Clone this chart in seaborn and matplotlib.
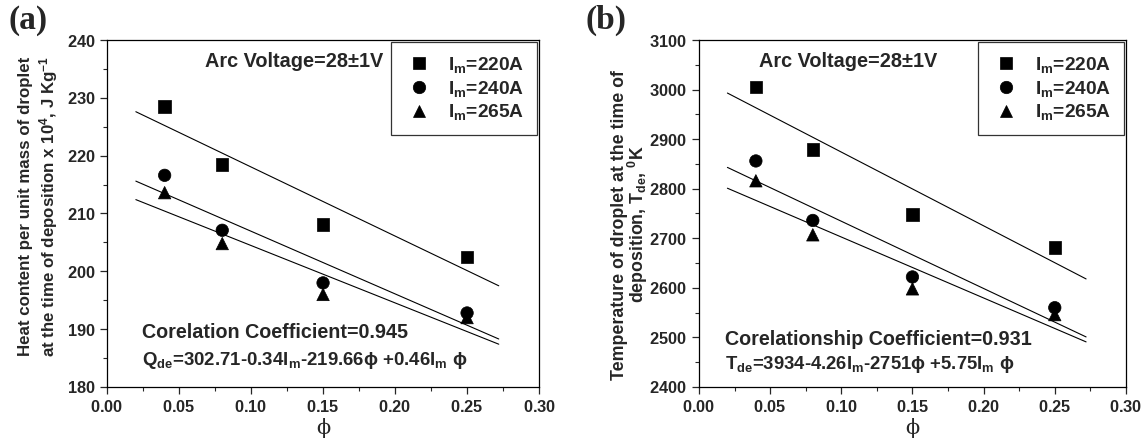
import numpy as np
import pandas as pd
import matplotlib
matplotlib.use("Agg")
import matplotlib.pyplot as plt
from matplotlib.ticker import MultipleLocator, FuncFormatter
import seaborn as sns

# ---------------- data ----------------
phi = [0.04, 0.08, 0.15, 0.25]
currents = ["220A", "240A", "265A"]

heat_220 = [228.5, 218.5, 208.1, 202.5]
heat_240 = [216.6, 207.1, 198.0, 192.8]
heat_265 = [213.6, 204.8, 196.0, 192.0]

temp_220 = [3005, 2879, 2748, 2681]
temp_240 = [2856, 2736, 2622, 2560]
temp_265 = [2816, 2707, 2598, 2546]

fit_phi = [0.02, 0.272]
heat_fit_220 = [227.6, 197.5]
heat_fit_240 = [215.6, 188.3]
heat_fit_265 = [212.4, 187.4]
temp_fit_220 = [2993, 2618]
temp_fit_240 = [2843, 2501]
temp_fit_265 = [2801, 2491]

# ---------------- style ----------------
sns.set_style("ticks")
plt.rcParams["font.family"] = ["Liberation Sans", "DejaVu Sans"]
plt.rcParams["font.weight"] = "bold"
plt.rcParams["mathtext.fontset"] = "custom"
plt.rcParams["mathtext.rm"] = "Liberation Sans:bold"
plt.rcParams["mathtext.it"] = "Liberation Sans:bold"
plt.rcParams["mathtext.bf"] = "Liberation Sans:bold"
plt.rcParams["mathtext.default"] = "rm"

def make_df(vals, xs):
    rows = []
    for cur, ys in zip(currents, vals):
        for x, y in zip(xs, ys):
            rows.append({"phi": x, "val": y, "cur": cur})
    return pd.DataFrame(rows)

fig = plt.figure(figsize=(11.46, 4.44), dpi=100)
axA = fig.add_axes([0.0934, 0.1284, 0.3770, 0.7815])
axB = fig.add_axes([0.6099, 0.1284, 0.3726, 0.7815])

marker_map = {"220A": "s", "240A": "o", "265A": "^"}
legend_labels = [r"$\mathrm{I_m}$=220A", r"$\mathrm{I_m}$=240A", r"$\mathrm{I_m}$=265A"]

def draw(ax, pts, fits, ylim, ymaj, ymin, ylabel, ylsize, ylcoords, ylspace,
         t1, t1pos, t2, t2pos, t2size, t3, t3pos, t3size):
    dfp = make_df(pts, phi)
    dff = make_df(fits, fit_phi)
    sns.lineplot(data=dff, x="phi", y="val", units="cur", estimator=None,
                 color="black", lw=0.8, ax=ax, legend=False)
    sns.scatterplot(data=dfp, x="phi", y="val", style="cur", markers=marker_map,
                    color="black", s=80, edgecolor="black", linewidth=0.5, ax=ax, legend=True)
    ax.set_xlim(0, 0.30)
    ax.set_ylim(*ylim)
    ax.xaxis.set_major_locator(MultipleLocator(0.05))
    ax.xaxis.set_minor_locator(MultipleLocator(0.025))
    ax.yaxis.set_major_locator(MultipleLocator(ymaj))
    ax.yaxis.set_minor_locator(MultipleLocator(ymin))
    ax.xaxis.set_major_formatter(FuncFormatter(lambda v, p: r"$\mathrm{%.2f}$" % v))
    ax.yaxis.set_major_formatter(FuncFormatter(lambda v, p: r"$\mathrm{%.0f}$" % v))
    ax.tick_params(which="major", direction="out", length=5, width=0.9, labelsize=11.8)
    ax.tick_params(which="minor", direction="out", length=3, width=0.8)
    for sp in ax.spines.values():
        sp.set_linewidth(0.9)
        sp.set_color("black")
    ax.set_xlabel("ϕ", family=["DejaVu Serif"], fontweight="normal", fontsize=15, labelpad=2)
    ax.set_ylabel(ylabel, fontsize=ylsize, fontweight="bold", linespacing=ylspace)
    ax.yaxis.set_label_coords(*ylcoords)
    h, l = ax.get_legend_handles_labels()
    leg = ax.legend(h, legend_labels, loc="upper right", fontsize=13.8, frameon=True,
                    fancybox=False, edgecolor="black", borderaxespad=0.12,
                    handlelength=1.6, handletextpad=0.7, labelspacing=0.2,
                    borderpad=0.65, markerscale=1.0)
    leg.get_frame().set_linewidth(0.9)
    for t in leg.get_texts():
        t.set_fontweight("bold")
    ax.text(t1pos[0], t1pos[1], t1, transform=ax.transAxes, fontsize=14.3,
            fontweight="bold", ha="left", va="center")
    ax.text(t2pos[0], t2pos[1], t2, transform=ax.transAxes, fontsize=t2size,
            fontweight="bold", ha="left", va="center")
    ax.text(t3pos[0], t3pos[1], t3, transform=ax.transAxes, fontsize=t3size,
            fontweight="bold", ha="left", va="center")

draw(axA, [heat_220, heat_240, heat_265], [heat_fit_220, heat_fit_240, heat_fit_265],
     (180, 240), 10, 5,
     "Heat content per unit mass of droplet\nat the time of deposition x 10$^{4}$, J Kg$^{-1}$",
     12.2, (-0.109, 0.52), 1.25,
     "Arc Voltage=28±1V", (0.226, 0.937),
     "Corelation Coefficient=0.945", (0.082, 0.158), 14.2,
     r"Q$_\mathrm{de}$=302.71-0.34I$_\mathrm{m}$-219.66ϕ +0.46I$_\mathrm{m}$ ϕ", (0.082, 0.075), 13.4)

draw(axB, [temp_220, temp_240, temp_265], [temp_fit_220, temp_fit_240, temp_fit_265],
     (2400, 3100), 100, 50,
     "Temperature of droplet at the time of\ndeposition, T$_\\mathrm{de}$, $^\\mathrm{0}$K",
     12.8, (-0.114, 0.468), 0.9,
     "Arc Voltage=28±1V", (0.141, 0.937),
     "Corelationship Coefficient=0.931", (0.062, 0.138), 14.2,
     r"T$_\mathrm{de}$=3934-4.26I$_\mathrm{m}$-2751ϕ +5.75I$_\mathrm{m}$ ϕ", (0.062, 0.066), 13.3)

fig.text(0.007, 0.953, "(a)", family=["Liberation Serif"], fontweight="bold",
         fontsize=24, ha="left", va="center")
fig.text(0.511, 0.953, "(b)", family=["Liberation Serif"], fontweight="bold",
         fontsize=24, ha="left", va="center")

fig.savefig("out.png", dpi=100, facecolor="white")
